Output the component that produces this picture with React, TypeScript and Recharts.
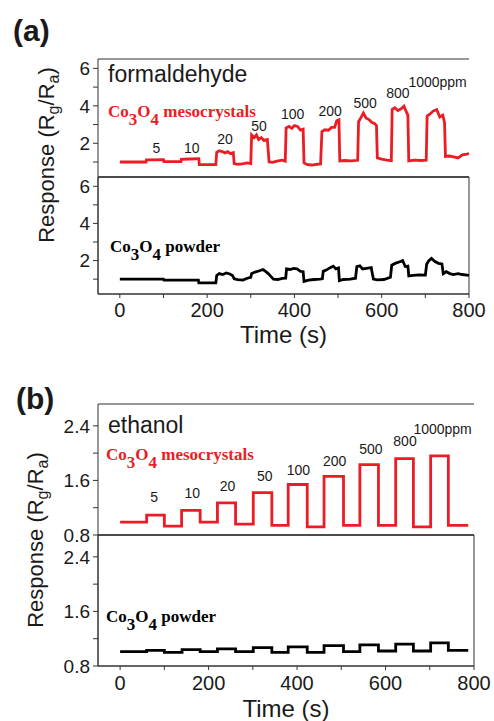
import { LineChart, Line, XAxis, YAxis, ReferenceDot, CartesianGrid } from 'recharts';

const RED = '#ec1c24';
const INK = '#1a1a1a';
const FRAME = '#333';
const SANS = '"Liberation Sans", Arial, Helvetica, sans-serif';
const SERIF = '"Liberation Serif", "Times New Roman", serif';

// (a) formaldehyde – Co3O4 mesocrystals, [time (s), Rg/Ra]
const formaldehydeMeso: [number, number][] = [
  [0, 1.0], [60, 1.0], [61, 1.12], [100, 1.13], [101, 1.02], [140, 1.02], [141, 1.14], [160, 1.16],
  [181, 1.18], [182, 0.86], [220, 0.86], [222, 1.52], [228, 1.6], [236, 1.55], [241, 1.48], [247, 1.55],
  [254, 1.45], [260, 1.5], [262, 0.92], [270, 0.88], [280, 0.9], [292, 0.95], [300, 0.92], [302, 2.45],
  [308, 2.3], [313, 2.45], [318, 2.2], [324, 2.3], [330, 2.15], [338, 2.2], [342, 1.0], [350, 0.98],
  [360, 1.05], [372, 1.1], [379, 1.05], [381, 2.82], [388, 2.9], [394, 2.8], [400, 2.95], [407, 2.9],
  [414, 2.7], [420, 2.75], [422, 0.95], [430, 0.86], [440, 0.84], [452, 0.88], [460, 0.9], [463, 2.62],
  [470, 2.72], [478, 2.7], [485, 2.85], [492, 2.85], [497, 3.2], [502, 3.25], [504, 1.06], [515, 1.08],
  [530, 1.06], [545, 1.09], [547, 3.15], [553, 3.4], [558, 3.62], [564, 3.35], [570, 3.28], [577, 3.12],
  [584, 3.05], [588, 2.95], [590, 1.22], [600, 1.15], [612, 1.1], [622, 1.07], [624, 3.8], [630, 3.9],
  [637, 3.75], [645, 3.85], [651, 3.98], [656, 3.7], [660, 3.5], [662, 1.06], [675, 1.1], [690, 1.08],
  [702, 1.1], [704, 3.45], [710, 3.55], [718, 3.72], [726, 3.8], [733, 3.4], [740, 3.5], [744, 3.1],
  [746, 1.3], [755, 1.32], [765, 1.28], [775, 1.22], [785, 1.38], [795, 1.42], [800, 1.45],
];

// (a) formaldehyde – Co3O4 powder
const formaldehydePowder: [number, number][] = [
  [0, 1.0], [100, 1.0], [101, 0.95], [180, 0.95], [181, 0.8], [220, 0.8], [222, 1.2], [228, 1.3],
  [236, 1.25], [244, 1.33], [252, 1.28], [258, 1.2], [262, 1.02], [270, 0.97], [282, 0.95], [292, 1.05],
  [300, 1.1], [302, 1.3], [310, 1.38], [320, 1.45], [328, 1.52], [334, 1.42], [340, 1.3], [346, 1.15],
  [352, 1.0], [362, 0.98], [372, 1.04], [380, 1.05], [382, 1.55], [390, 1.52], [398, 1.58], [406, 1.55],
  [414, 1.42], [420, 1.4], [422, 0.88], [432, 0.95], [445, 0.98], [458, 1.0], [464, 1.02], [466, 1.42],
  [474, 1.5], [482, 1.62], [489, 1.7], [495, 1.55], [501, 1.6], [503, 0.92], [512, 0.98], [528, 1.0],
  [540, 1.05], [543, 1.68], [550, 1.72], [556, 1.55], [565, 1.58], [576, 1.62], [581, 1.0], [590, 0.96],
  [605, 0.98], [620, 1.1], [623, 1.75], [632, 1.86], [640, 1.92], [648, 2.0], [654, 1.68], [660, 1.7],
  [662, 1.17], [672, 1.2], [685, 1.23], [700, 1.22], [703, 1.8], [708, 2.0], [714, 2.12], [722, 1.95],
  [730, 1.85], [738, 1.82], [741, 1.3], [748, 1.4], [756, 1.3], [764, 1.25], [775, 1.3], [785, 1.25],
  [795, 1.22], [800, 1.2],
];

// (b) ethanol – step levels, each value holds until the next time
const ethanolMeso: [number, number][] = [
  [0, 0.99], [60, 1.09], [100, 0.93], [139, 1.16], [181, 0.99], [220, 1.27], [261, 0.96], [301, 1.42],
  [343, 0.94], [380, 1.54], [423, 0.92], [461, 1.66], [505, 0.94], [542, 1.83], [584, 0.94], [623, 1.92],
  [663, 0.92], [702, 1.96], [742, 0.94], [787, 0.94],
];

const ethanolPowder: [number, number][] = [
  [0, 1.01], [60, 1.03], [100, 1.0], [140, 1.04], [181, 1.01], [220, 1.05], [261, 1.01], [301, 1.07],
  [343, 1.0], [380, 1.08], [423, 1.0], [461, 1.1], [505, 1.01], [542, 1.11], [584, 1.02], [623, 1.12],
  [663, 1.02], [702, 1.14], [742, 1.03], [787, 1.03],
];

const ppmLabels = ['5', '10', '20', '50', '100', '200', '500', '800', '1000ppm'];
const formaldehydeLabelAt: [number, number][] = [
  [84, 1.73], [165, 1.77], [241, 2.25], [319, 2.92], [396, 3.55], [482, 3.72], [562, 4.17], [637, 4.67], [728, 5.29],
];
const ethanolLabelAt: [number, number][] = [
  [77, 1.36], [163, 1.41], [243, 1.52], [327, 1.67], [403, 1.75], [485, 1.88], [567, 2.06], [644, 2.17], [729, 2.35],
];

const timeDomain: [number, number] = [-50, 800];
const timeTicks = [0, 100, 200, 300, 400, 500, 600, 700, 800];
const formaldehydeTicks = [1, 2, 3, 4, 5, 6];
const ethanolTicks = [0.8, 1.2, 1.6, 2.0, 2.4];
const formaldehydeDomain: [number, number] = [0.2, 6.5];
const ethanolDomain: [number, number] = [0.8, 2.72];

interface PanelProps {
  plotTop: number;
  plotBottom: number;
  plotRight: number;
  data: [number, number][];
  color: string;
  yDomain: [number, number];
  yTicks: number[];
  yFormat: (v: number) => string;
  axisHeight?: number;
  tickGap?: number;
  step?: boolean;
  labels?: [number, number][];
}

// One framed sub-panel. The upper panel's bottom axis draws its ticks downward,
// which puts them inside the lower panel just under the shared edge.
function Panel({ plotTop, plotBottom, plotRight, data, color, yDomain, yTicks, yFormat, axisHeight, tickGap = 6, step, labels }: PanelProps) {
  const rows = data.map(([t, v]) => ({ t, v }));
  const showTime = axisHeight !== undefined;
  const bottomH = showTime ? axisHeight : 1;
  const height = plotBottom - plotTop + bottomH;
  return (
    <div style={{ position: 'absolute', left: 0, top: plotTop }}>
      <LineChart width={494} height={height} data={rows} margin={{ top: 0, right: 494 - plotRight, bottom: 0, left: 0 }}>
        <CartesianGrid horizontalValues={yDomain} verticalValues={timeDomain} stroke={FRAME} strokeDasharray="" fill="none" />
        <XAxis
          dataKey="t"
          type="number"
          domain={timeDomain}
          allowDataOverflow
          ticks={timeTicks}
          interval={0}
          height={bottomH}
          stroke={FRAME}
          tick={showTime ? { fontSize: 20, fill: INK } : false}
          tickLine
          tickSize={4}
          tickMargin={tickGap}
          tickFormatter={(v: number) => (v % 200 === 0 ? String(v) : '')}
          label={showTime ? { value: 'Time (s)', position: 'insideBottom', offset: 4, fontSize: 24, fill: INK } : undefined}
        />
        <YAxis
          type="number"
          domain={yDomain}
          allowDataOverflow
          ticks={yTicks}
          interval={0}
          width={98}
          tickSize={5}
          tickMargin={3}
          tickFormatter={yFormat}
          tick={{ fontSize: 19, fill: INK }}
          stroke={FRAME}
        />
        <Line
          type={step ? 'stepAfter' : 'linear'}
          dataKey="v"
          stroke={color}
          strokeWidth={2.8}
          dot={false}
          isAnimationActive={false}
        />
        {(labels ?? []).map(([t, v], i) => (
          <ReferenceDot
            key={ppmLabels[i]}
            x={t}
            y={v}
            r={0}
            fill="none"
            stroke="none"
            ifOverflow="visible"
            label={{ value: ppmLabels[i], position: 'center', fontSize: 14, fill: INK }}
          />
        ))}
      </LineChart>
    </div>
  );
}

function Material({ x, y, color, name }: { x: number; y: number; color: string; name: string }) {
  return (
    <text x={x} y={y} fill={color} fontFamily={SERIF} fontWeight="bold" fontSize={17}>
      Co<tspan dy={8}>3</tspan>
      <tspan dy={-8}>O</tspan>
      <tspan dy={8}>4</tspan>
      <tspan dy={-8}>{' ' + name}</tspan>
    </text>
  );
}

function ResponseLabel({ x, y }: { x: number; y: number }) {
  return (
    <text transform={`translate(${x},${y}) rotate(-90)`} textAnchor="middle" fontSize={22} fill={INK} fontFamily={SANS}>
      Response (R<tspan dy={5} fontSize={16}>g</tspan>
      <tspan dy={-5}>/R</tspan>
      <tspan dy={5} fontSize={16}>a</tspan>
      <tspan dy={-5}>)</tspan>
    </text>
  );
}

const fmtA = (v: number) => (v % 2 === 0 ? String(v) : '');
const fmtB = (v: number) => (Math.abs(v - 1.2) < 0.01 || Math.abs(v - 2.0) < 0.01 ? '' : v.toFixed(1));

export default function App() {
  return (
    <div style={{ position: 'absolute', left: 0, top: 0, width: 494, height: 721, background: '#fff', fontFamily: SANS }}>
      <style>{'.recharts-surface { overflow: visible; }'}</style>
      <Panel plotTop={177} plotBottom={294} plotRight={469} data={formaldehydePowder} color="#000" yDomain={formaldehydeDomain} yTicks={formaldehydeTicks} yFormat={fmtA} axisHeight={53} tickGap={5} />
      <Panel plotTop={59} plotBottom={177} plotRight={469} data={formaldehydeMeso} color={RED} yDomain={formaldehydeDomain} yTicks={formaldehydeTicks} yFormat={fmtA} labels={formaldehydeLabelAt} />
      <Panel plotTop={535} plotBottom={666} plotRight={474} data={ethanolPowder} color="#000" yDomain={ethanolDomain} yTicks={ethanolTicks} yFormat={fmtB} axisHeight={55} step />
      <Panel plotTop={404} plotBottom={535} plotRight={474} data={ethanolMeso} color={RED} yDomain={ethanolDomain} yTicks={ethanolTicks} yFormat={fmtB} step labels={ethanolLabelAt} />
      <svg width={494} height={721} style={{ position: 'absolute', left: 0, top: 0, pointerEvents: 'none' }}>
        <text x={13} y={41} fontSize={30} fontWeight="bold" fill={INK} fontFamily={SANS}>(a)</text>
        <text x={16} y={409} fontSize={30} fontWeight="bold" fill={INK} fontFamily={SANS}>(b)</text>
        <text x={108} y={82} fontSize={23} fill={INK} fontFamily={SANS}>formaldehyde</text>
        <text x={108} y={433} fontSize={23} fill={INK} fontFamily={SANS}>ethanol</text>
        <Material x={108} y={117} color={RED} name="mesocrystals" />
        <Material x={110} y={252} color="#000" name="powder" />
        <Material x={106} y={460} color={RED} name="mesocrystals" />
        <Material x={106} y={622} color="#000" name="powder" />
        <ResponseLabel x={54} y={155} />
        <ResponseLabel x={43} y={540} />
      </svg>
    </div>
  );
}
